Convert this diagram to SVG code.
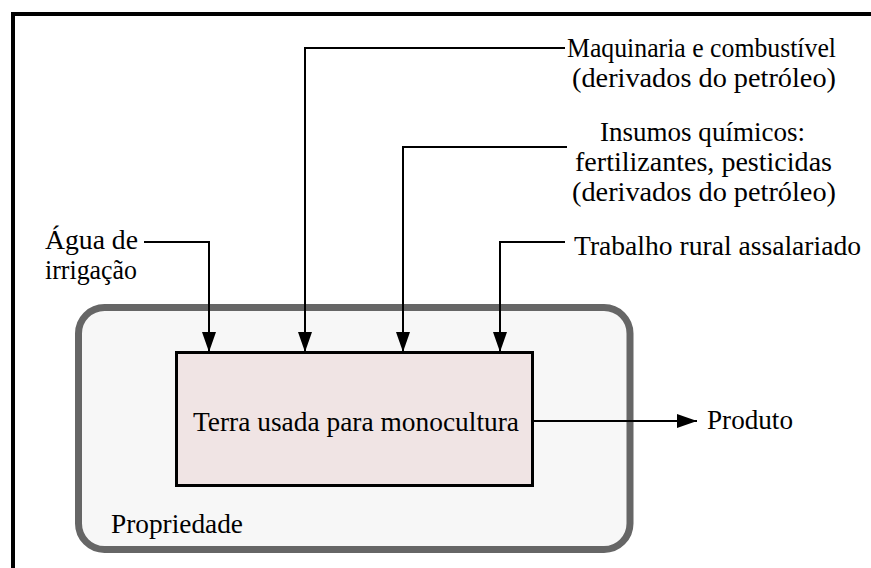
<svg xmlns="http://www.w3.org/2000/svg" width="871" height="568" viewBox="0 0 871 568">
<defs>
<style>
.ln{fill:none;stroke:#000;stroke-width:2}
</style>
<marker id="ah" markerUnits="userSpaceOnUse" markerWidth="20" markerHeight="14" refX="20" refY="7" orient="auto">
<path d="M0,0 L20,7 L0,14 Z" fill="#000"/>
</marker>
</defs>
<rect width="871" height="568" fill="#fff"/>
<path d="M13,568 V14 H871" fill="none" stroke="#000" stroke-width="4"/>
<g font-family="Liberation Serif, Times New Roman, serif" font-size="27" fill="#000">
<g id="propriedade">
<rect x="78.5" y="307.5" width="551.5" height="242" rx="26" fill="#f7f7f7" stroke="#666" stroke-width="7"/>
<text x="111" y="533" textLength="132" lengthAdjust="spacingAndGlyphs">Propriedade</text>
</g>
<g id="terra">
<rect x="176.5" y="352.5" width="356" height="133" fill="#f0e4e4" stroke="#000" stroke-width="3"/>
<text x="193" y="431" textLength="326" lengthAdjust="spacingAndGlyphs">Terra usada para monocultura</text>
</g>
<g id="agua">
<text x="45" y="249" textLength="93" lengthAdjust="spacingAndGlyphs">Água de</text>
<text x="45" y="279" textLength="92" lengthAdjust="spacingAndGlyphs">irrigação</text>
</g>
<g id="maquinaria">
<text x="567" y="57" textLength="269" lengthAdjust="spacingAndGlyphs">Maquinaria e combustível</text>
<text x="572" y="87" textLength="264" lengthAdjust="spacingAndGlyphs">(derivados do petróleo)</text>
</g>
<g id="insumos">
<text x="600" y="141" textLength="205" lengthAdjust="spacingAndGlyphs">Insumos químicos:</text>
<text x="575" y="171" textLength="257" lengthAdjust="spacingAndGlyphs">fertilizantes, pesticidas</text>
<text x="572" y="201" textLength="264" lengthAdjust="spacingAndGlyphs">(derivados do petróleo)</text>
</g>
<g id="trabalho">
<text x="574" y="255" textLength="287" lengthAdjust="spacingAndGlyphs">Trabalho rural assalariado</text>
</g>
<g id="produto">
<text x="707" y="429" textLength="86" lengthAdjust="spacingAndGlyphs">Produto</text>
</g>
</g>
<g id="connectors">
<path class="ln" d="M144,242 H209 V352" marker-end="url(#ah)"/>
<path class="ln" d="M565,48 H305 V352" marker-end="url(#ah)"/>
<path class="ln" d="M567,147 H403 V352" marker-end="url(#ah)"/>
<path class="ln" d="M565,242 H500 V352" marker-end="url(#ah)"/>
<path class="ln" d="M533,421 H697" marker-end="url(#ah)"/>
</g>
</svg>
